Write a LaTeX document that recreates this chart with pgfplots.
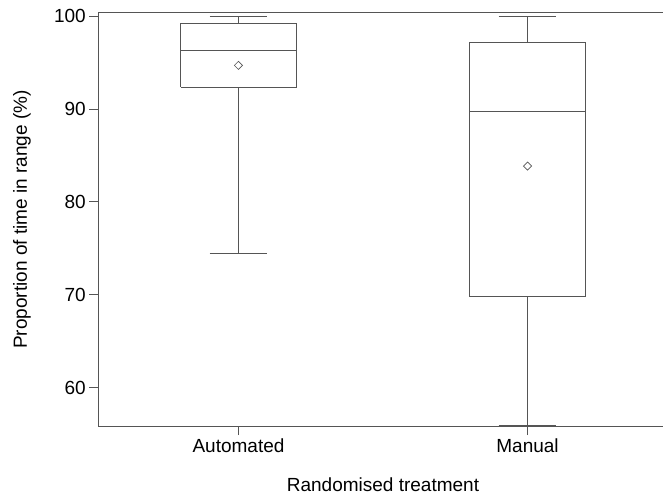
\documentclass[border=0pt]{standalone}
\usepackage{fontspec}
\setmainfont{Liberation Sans}
\usepackage{pgfplots}
\pgfplotsset{compat=1.18}
\definecolor{lncol}{RGB}{85,85,85}
\begin{document}
\begin{tikzpicture}
\begin{axis}[
  at={(0,0)}, anchor=south west,
  scale only axis, width=570bp, height=413.8bp,
  xmin=-0.486, xmax=1.486, ymin=55.85, ymax=100.38,
  xtick={0,1}, xticklabels={Automated,Manual},
  ytick={60,70,80,90,100},
  tick align=outside, xtick pos=left, ytick pos=left,
  major tick length=8.7bp,
  axis line style={lncol, line width=0.9bp},
  tick style={lncol, line width=0.9bp},
  label style={font=\fontsize{19bp}{22bp}\selectfont},
  ticklabel style={font=\fontsize{19bp}{22bp}\selectfont},
  /pgf/number format/assume math mode=true,
  xlabel={Randomised treatment},
  ylabel={Proportion of time in range (\%)},
  xlabel style={at={(axis description cs:0.5,-0.15636)}, anchor=base},
  ylabel style={at={(axis description cs:-0.1246,0.5)}, anchor=base},
  bx/.style={draw=lncol, line width=0.9bp, mark=none, solid},
]
% Automated: box (Q1 92.36, median 96.27, Q3 99.21), whiskers 74.46 .. 100
\addplot[bx] coordinates {(-0.2,92.36) (0.2,92.36) (0.2,99.21) (-0.2,99.21) (-0.2,92.36)};
\addplot[bx] coordinates {(-0.2,96.27) (0.2,96.27)};
\addplot[bx] coordinates {(0,99.21) (0,100)};
\addplot[bx] coordinates {(0,92.36) (0,74.46)};
\addplot[bx] coordinates {(-0.1,100) (0.1,100)};
\addplot[bx] coordinates {(-0.1,74.46) (0.1,74.46)};
% Manual: box (Q1 69.79, median 89.77, Q3 97.13), whiskers 55.95 .. 100
\addplot[bx] coordinates {(0.8,69.79) (1.2,69.79) (1.2,97.13) (0.8,97.13) (0.8,69.79)};
\addplot[bx] coordinates {(0.8,89.77) (1.2,89.77)};
\addplot[bx] coordinates {(1,97.13) (1,100)};
\addplot[bx] coordinates {(1,69.79) (1,55.95)};
\addplot[bx] coordinates {(0.9,100) (1.1,100)};
\addplot[bx] coordinates {(0.9,55.95) (1.1,55.95)};
% means
\addplot[only marks, mark=square, mark size=2.9bp,
  mark options={draw=lncol, fill=white, line width=0.7bp, rotate=45}]
  coordinates {(0,94.69) (1,83.85)};
\end{axis}
\pgfresetboundingbox
\path (-98bp,-69.7bp) rectangle (565bp,426.3bp);
\end{tikzpicture}
\end{document}
